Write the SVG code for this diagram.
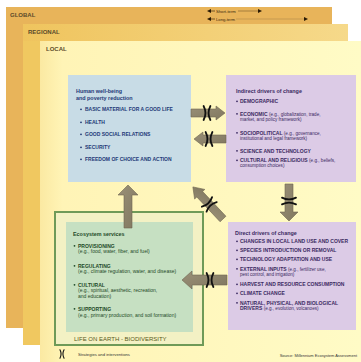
<svg xmlns="http://www.w3.org/2000/svg" width="361" height="362" viewBox="0 0 361 362">
<defs>
<linearGradient id="localg" x1="0" y1="0" x2="1" y2="0">
<stop offset="0" stop-color="#fbe9a2"/>
<stop offset="0.07" stop-color="#fff4b6"/>
<stop offset="1" stop-color="#fffbc6"/>
</linearGradient>
<linearGradient id="regg" x1="0" y1="0" x2="1" y2="0">
<stop offset="0" stop-color="#efc45e"/>
<stop offset="1" stop-color="#f6d98a"/>
</linearGradient>
<linearGradient id="arrg" x1="0" y1="0" x2="1" y2="1">
<stop offset="0" stop-color="#9a9078"/>
<stop offset="1" stop-color="#80775f"/>
</linearGradient>
<g id="xm">
<path d="M-3.4,-7 Q0.3,0 -3.4,7"/>
<path d="M3.4,-7 Q-0.3,0 3.4,7"/>
</g>
</defs>
<style>
text{font-family:"Liberation Sans",Arial,sans-serif}
.lvl{font-size:6px;font-weight:bold;fill:#5b4a2a}
.ttl{font-size:5.4px;font-weight:bold}
.hw{fill:#1f3a78}
.dr{fill:#3b2a62}
.es{fill:#1f4a28}
.it{font-size:5px;font-weight:bold}
.sub{font-size:4.6px;font-weight:normal}
.esub{font-size:5px;font-weight:normal}
.arrow{fill:url(#arrg);stroke:#6f6650;stroke-width:0.6}
.xm{fill:none;stroke:#111;stroke-width:1.8;stroke-linecap:round}
.tiny{font-size:4.2px;fill:#3a2a10}
</style>
<rect width="361" height="362" fill="#ffffff"/>
<g id="global">
<rect x="6" y="7" width="326" height="321" fill="#e8b45a"/>
<text class="lvl" x="10" y="16.5">GLOBAL</text>
</g>
<g id="regional">
<rect x="23" y="24" width="325" height="321" fill="url(#regg)"/>
<rect x="23" y="41" width="17" height="304" fill="#f0c860"/>
<text class="lvl" x="28" y="33.5">REGIONAL</text>
</g>
<g id="local">
<rect x="40" y="41" width="321" height="321" fill="url(#localg)"/>
<text class="lvl" x="46" y="50.5">LOCAL</text>
</g>
<g id="timescale">
<polygon points="207,11 211,9 211,13" fill="#2a1a05"/>
<line x1="211" y1="11" x2="215" y2="11" stroke="#2a1a05" stroke-width="0.6"/>
<text class="tiny" x="216" y="12.5">Short-term</text>
<line x1="238" y1="11" x2="259" y2="11" stroke="#7a5a2a" stroke-width="0.6"/>
<polygon points="262,11 258,9 258,13" fill="#2a1a05"/>
<polygon points="207,19 211,17 211,21" fill="#2a1a05"/>
<line x1="211" y1="19" x2="215" y2="19" stroke="#2a1a05" stroke-width="0.6"/>
<text class="tiny" x="216" y="20.5">Long-term</text>
<line x1="236" y1="19" x2="305" y2="19" stroke="#b08a4a" stroke-width="0.6"/>
<polygon points="308,19 304,17 304,21" fill="#2a1a05"/>
</g>
<g id="wellbeing">
<rect x="68" y="75" width="123" height="107" fill="#c8dce6"/>
<text class="ttl hw" x="76" y="93">Human well-being</text>
<text class="ttl hw" x="76" y="99.5">and poverty reduction</text>
<g class="hw">
<circle cx="81" cy="109.3" r="0.9"/><text class="it" x="85" y="111">BASIC MATERIAL FOR A GOOD LIFE</text>
<circle cx="81" cy="122.3" r="0.9"/><text class="it" x="85" y="124">HEALTH</text>
<circle cx="81" cy="134.3" r="0.9"/><text class="it" x="85" y="136">GOOD SOCIAL RELATIONS</text>
<circle cx="81" cy="147.3" r="0.9"/><text class="it" x="85" y="149">SECURITY</text>
<circle cx="81" cy="159.3" r="0.9"/><text class="it" x="85" y="161">FREEDOM OF CHOICE AND ACTION</text>
</g>
</g>
<g id="indirect">
<rect x="226" y="75" width="130" height="107" fill="#dccbe6"/>
<text class="ttl dr" x="236" y="93">Indirect drivers of change</text>
<g class="dr">
<circle cx="237" cy="101.3" r="0.9"/><text class="it" x="240" y="103">DEMOGRAPHIC</text>
<circle cx="237" cy="113.8" r="0.9"/><text class="it" x="240" y="115.5">ECONOMIC <tspan class="sub">(e.g., globalization, trade,</tspan></text>
<text class="sub" x="240" y="120.8">market, and policy framework)</text>
<circle cx="237" cy="132.8" r="0.9"/><text class="it" x="240" y="134.5">SOCIOPOLITICAL <tspan class="sub">(e.g., governance,</tspan></text>
<text class="sub" x="240" y="139.8">institutional and legal framework)</text>
<circle cx="237" cy="150.8" r="0.9"/><text class="it" x="240" y="152.5">SCIENCE AND TECHNOLOGY</text>
<circle cx="237" cy="160.3" r="0.9"/><text class="it" x="240" y="162">CULTURAL AND RELIGIOUS <tspan class="sub">(e.g., beliefs,</tspan></text>
<text class="sub" x="240" y="167.3">consumption choices)</text>
</g>
</g>
<g id="direct">
<rect x="228" y="222" width="128" height="108" fill="#dccbe6"/>
<text class="ttl dr" x="235" y="235">Direct drivers of change</text>
<g class="dr">
<circle cx="237" cy="241.3" r="0.9"/><text class="it" x="240" y="243">CHANGES IN LOCAL LAND USE AND COVER</text>
<circle cx="237" cy="250.3" r="0.9"/><text class="it" x="240" y="252">SPECIES INTRODUCTION OR REMOVAL</text>
<circle cx="237" cy="259.3" r="0.9"/><text class="it" x="240" y="261">TECHNOLOGY ADAPTATION AND USE</text>
<circle cx="237" cy="268.8" r="0.9"/><text class="it" x="240" y="270.5">EXTERNAL INPUTS <tspan class="sub">(e.g., fertilizer use,</tspan></text>
<text class="sub" x="240" y="275.7">pest control, and irrigation)</text>
<circle cx="237" cy="284.3" r="0.9"/><text class="it" x="240" y="286">HARVEST AND RESOURCE CONSUMPTION</text>
<circle cx="237" cy="293.3" r="0.9"/><text class="it" x="240" y="295">CLIMATE CHANGE</text>
<circle cx="237" cy="302.8" r="0.9"/><text class="it" x="240" y="304.5">NATURAL, PHYSICAL, AND BIOLOGICAL</text>
<text class="it" x="240" y="309.7">DRIVERS <tspan class="sub">(e.g., evolution, volcanoes)</tspan></text>
</g>
</g>
<g id="ecosystem">
<rect x="55" y="212" width="148" height="133" fill="#f3f1c4" stroke="#6f9a58" stroke-width="2"/>
<rect x="66" y="222" width="127" height="110" fill="#c6e0c2"/>
<text class="ttl es" x="73" y="236">Ecosystem services</text>
<g class="es">
<circle cx="74.5" cy="245.8" r="0.9"/><text class="it" x="78" y="247.5">PROVISIONING</text>
<text class="esub" x="78" y="253.2">(e.g., food, water, fiber, and fuel)</text>
<circle cx="74.5" cy="265.8" r="0.9"/><text class="it" x="78" y="267.5">REGULATING</text>
<text class="esub" x="78" y="273.2">(e.g., climate regulation, water, and disease)</text>
<circle cx="74.5" cy="284.8" r="0.9"/><text class="it" x="78" y="286.5">CULTURAL</text>
<text class="esub" x="78" y="292.2">(e.g., spiritual, aesthetic, recreation,</text>
<text class="esub" x="78" y="297.8">and education)</text>
<circle cx="74.5" cy="308.8" r="0.9"/><text class="it" x="78" y="310.5">SUPPORTING</text>
<text class="esub" x="78" y="316.8">(e.g., primary production, and soil formation)</text>
</g>
<text x="74" y="340.5" font-size="6" fill="#5a5a1a">LIFE ON EARTH - BIODIVERSITY</text>
</g>
<g id="connectors">
<path class="arrow" d="M124,228 L124,195 L118,195 L128,185 L138,195 L132,195 L132,228 Z"/>
<path class="arrow" d="M191,109 L216,109 L216,106 L225,113 L216,120 L216,117 L191,117 Z"/>
<use href="#xm" class="xm" transform="translate(207,113)"/>
<path class="arrow" d="M226,135 L203,135 L203,132 L194,139 L203,146 L203,143 L226,143 Z"/>
<use href="#xm" class="xm" transform="translate(209,139)"/>
<path class="arrow" d="M285,184 L285,212 L280,212 L289,221 L298,212 L293,212 L293,184 Z"/>
<use href="#xm" class="xm" transform="translate(289,201) rotate(90)"/>
<g transform="translate(223,219) rotate(226.8)">
<path class="arrow" d="M0,-4 L34,-4 L34,-7 L44,0 L34,7 L34,4 L0,4 Z"/>
<use href="#xm" class="xm" transform="translate(20,0)"/>
</g>
<path class="arrow" d="M227,275 L192,275 L192,271 L182,280 L192,289 L192,285 L227,285 Z"/>
<use href="#xm" class="xm" transform="translate(210,280)"/>
</g>
<g id="legend">
<use href="#xm" class="xm" transform="translate(62,354) scale(0.6)"/>
<text x="78" y="356" font-size="4.2" fill="#333">Strategies and interventions</text>
<text x="357" y="357" font-size="4" fill="#333" text-anchor="end">Source: Millennium Ecosystem Assessment</text>
</g>
</svg>
